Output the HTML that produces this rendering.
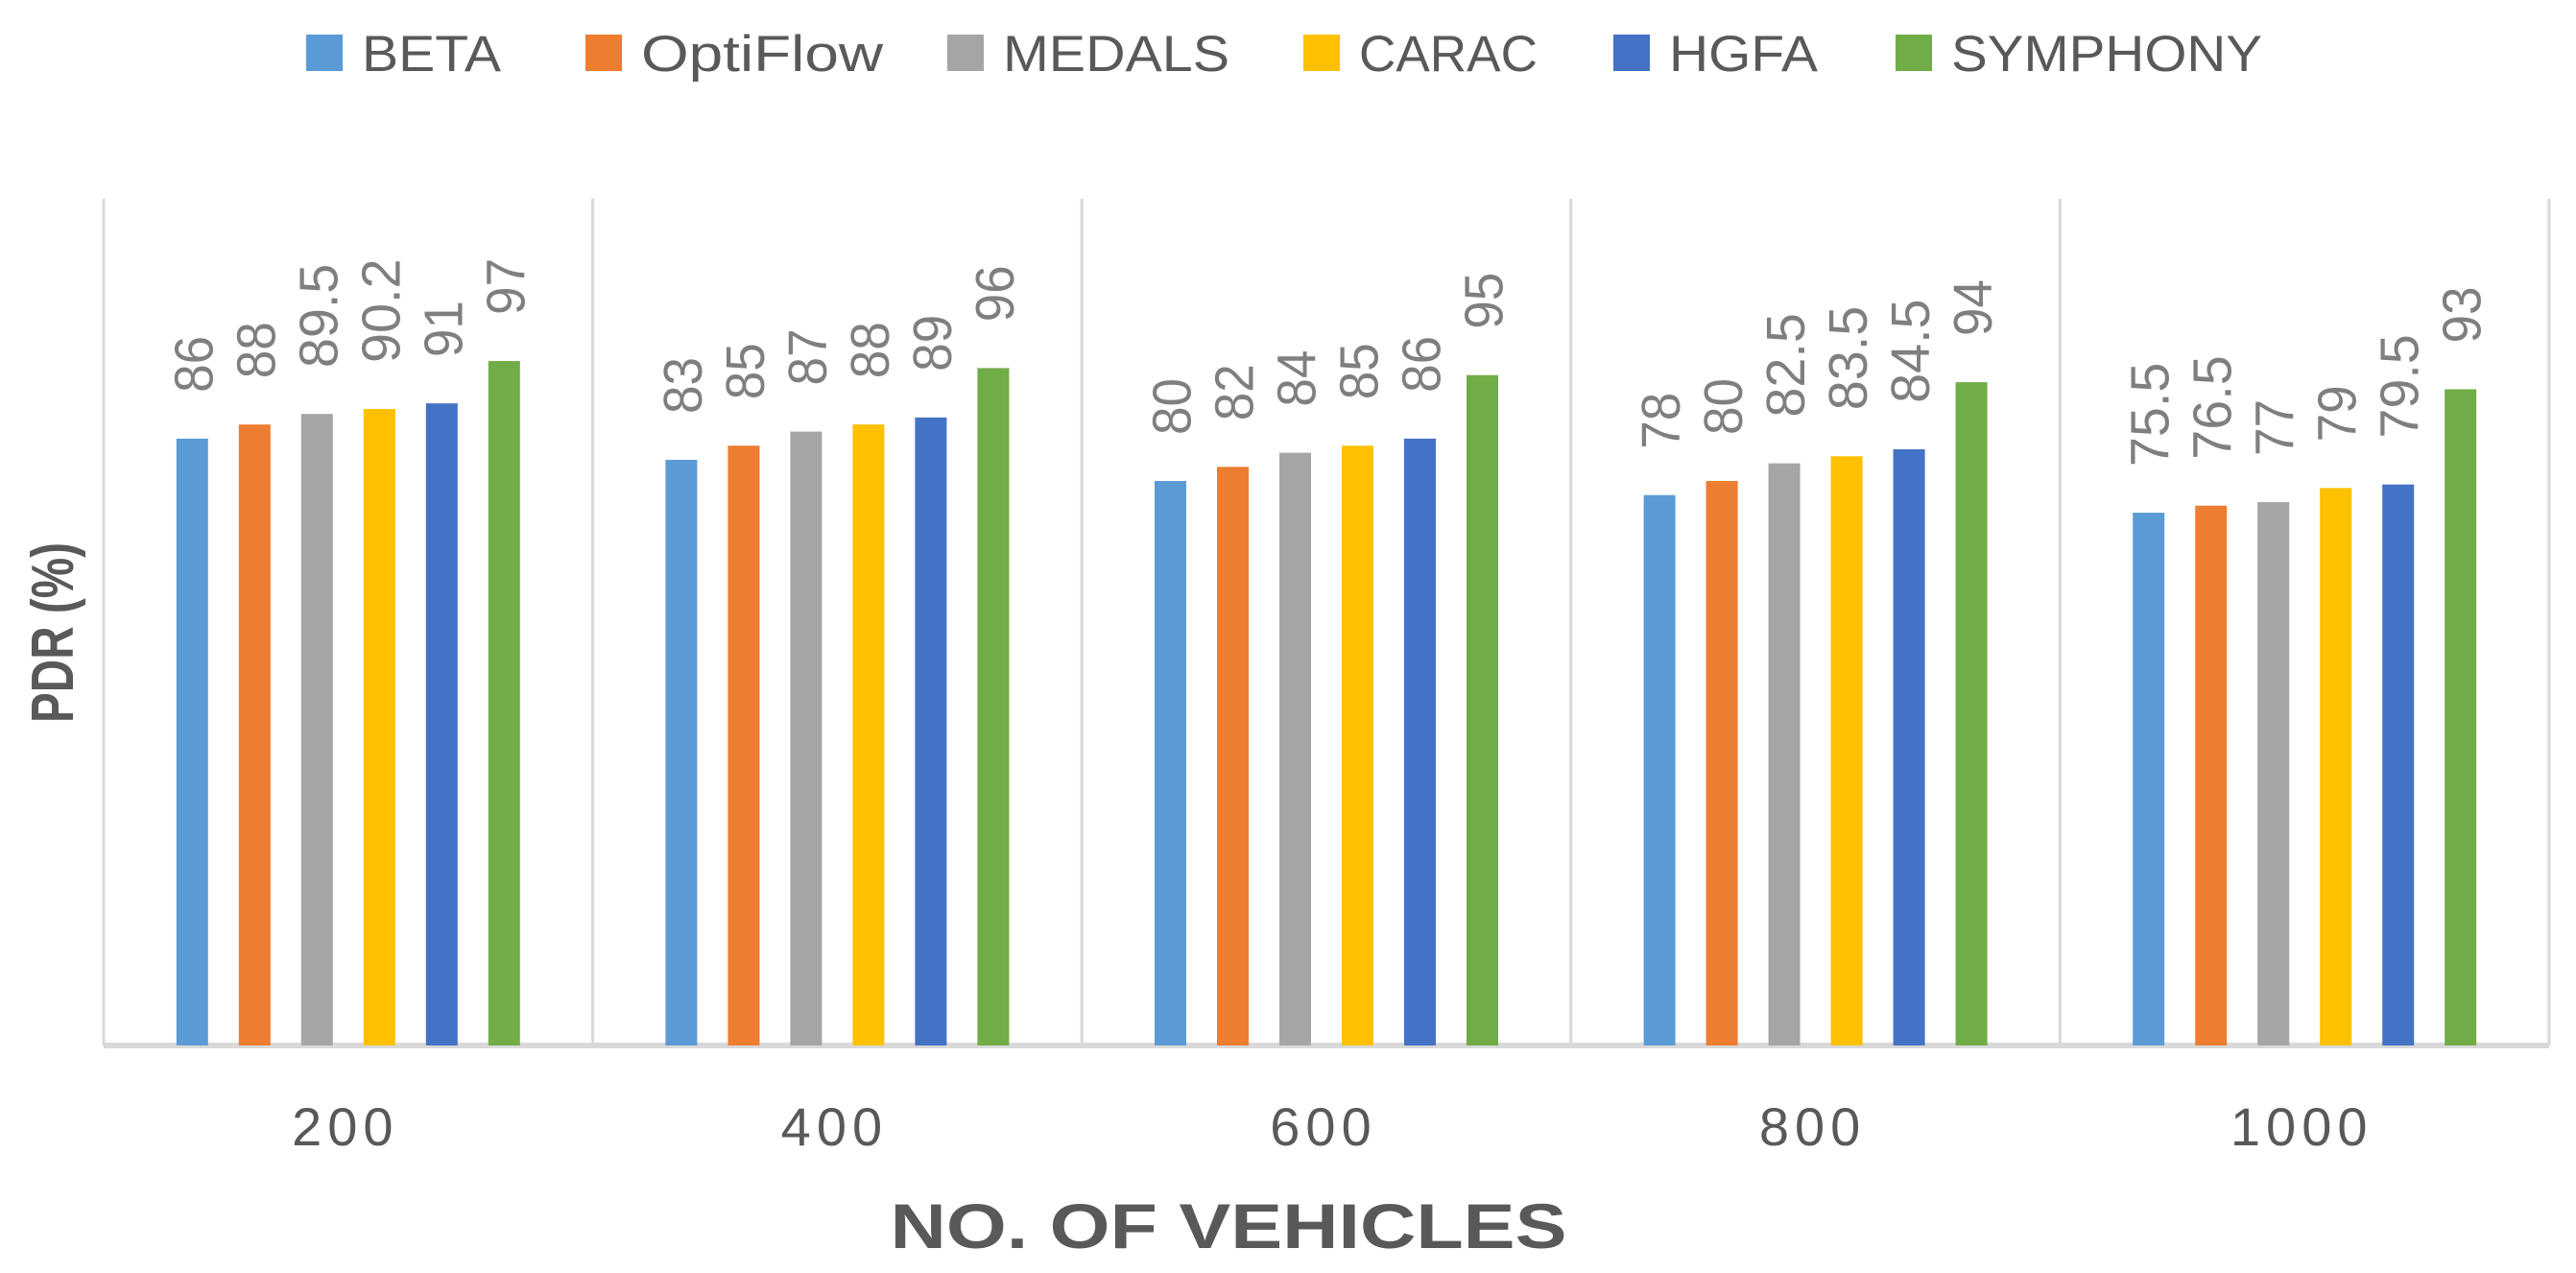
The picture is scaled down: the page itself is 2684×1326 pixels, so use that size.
<!DOCTYPE html>
<html><head><meta charset="utf-8"><style>
html,body{margin:0;padding:0;background:#fff;}
svg{display:block;font-family:"Liberation Sans",sans-serif;}
</style></head><body>
<svg id="chart" width="2684" height="1326" viewBox="0 0 2684 1326">
<g id="legend"></g>
<g id="grid"></g>
<g id="bars"></g>
<g id="labels"></g>
<g id="xticks"></g>
<text x="1280" y="1300" text-anchor="middle" font-size="66" font-weight="bold" fill="#595959" textLength="705" lengthAdjust="spacingAndGlyphs">NO. OF VEHICLES</text>
<text transform="translate(76,659) rotate(-90)" text-anchor="middle" font-size="62" font-weight="bold" fill="#595959" textLength="188" lengthAdjust="spacingAndGlyphs">PDR (%)</text>
</svg>
<script>
const categories = ["200","400","600","800","1000"];
const seriesNames = ["BETA","OptiFlow","MEDALS","CARAC","HGFA","SYMPHONY"];
const BETA = [86,83,80,78,75.5];
const OptiFlow = [88,85,82,80,76.5];
const MEDALS = [89.5,87,84,82.5,77];
const CARAC = [90.2,88,85,83.5,79];
const HGFA = [91,89,86,84.5,79.5];
const SYMPHONY = [97,96,95,94,93];
const yMax = 120;

const series = [BETA,OptiFlow,MEDALS,CARAC,HGFA,SYMPHONY];
const colors = ["#5b9bd5","#ed7d31","#a5a5a5","#ffc000","#4472c4","#70ad47"];
const NS = "http://www.w3.org/2000/svg";
const plotL = 108, plotR = 2656, plotT = 207, plotB = 1089;
const groupW = (plotR - plotL) / categories.length;
const barW = 33, barStep = 65;
function yScale(v){ return plotB - v / yMax * (plotB - plotT); }
function xCenter(ci, si){ return plotL + groupW * (ci + 0.5) + (si - (series.length - 1) / 2) * barStep; }
function mk(tag, attrs, parent){ const e = document.createElementNS(NS, tag); for (const k in attrs) e.setAttribute(k, attrs[k]); parent.appendChild(e); return e; }

const grid = document.getElementById('grid');
for (let i = 0; i <= categories.length; i++) {
  const x = plotL + groupW * i;
  const l = mk('line', {x1:x, x2:x, y1:plotT, y2:plotB, stroke:'#d9d9d9', 'stroke-width':3}, grid);
  
  
}
const axis = mk('line', {x1:plotL, x2:plotR, y1:plotB, y2:plotB, stroke:'#d9d9d9', 'stroke-width':6}, grid);



const bars = document.getElementById('bars');
const labels = document.getElementById('labels');
series.forEach((vals, si) => {
  vals.forEach((v, ci) => {
    const cx = xCenter(ci, si);
    const top = yScale(v);
    const r = mk('rect', {x:cx - barW/2, y:top, width:barW, height:plotB - top, fill:colors[si]}, bars);
    
    
    const s = String(v);
    const len = s.replace('.', '').length * 29.5 + (s.includes('.') ? 20 : 0);
    const t = mk('text', {transform:'translate(' + (cx + 21) + ',' + (top - 48) + ') rotate(-90)', 'font-size':57, fill:'#7f7f7f', textLength:len, lengthAdjust:'spacingAndGlyphs'}, labels);
    t.textContent = s;
    
    
  });
});

const xt = document.getElementById('xticks');
categories.forEach((c, ci) => {
  const t = mk('text', {x:plotL + groupW * (ci + 0.5) - 3, y:1193, 'text-anchor':'middle', 'font-size':56, fill:'#595959', 'letter-spacing':6}, xt);
  t.textContent = c;
  
  
});

const legend = document.getElementById('legend');
const legX = [319, 610, 987, 1358, 1681, 1975];
const legLen = [145, 252, 236, 186, 155, 324];
seriesNames.forEach((n, i) => {
  const g = mk('g', {}, legend);
  
  
  mk('rect', {x:legX[i], y:36, width:38, height:38, fill:colors[i]}, g);
  const t = mk('text', {x:legX[i] + 58, y:74, 'font-size':53, fill:'#595959', textLength:legLen[i], lengthAdjust:'spacingAndGlyphs'}, g);
  t.textContent = n;
});
</script>
</body></html>
